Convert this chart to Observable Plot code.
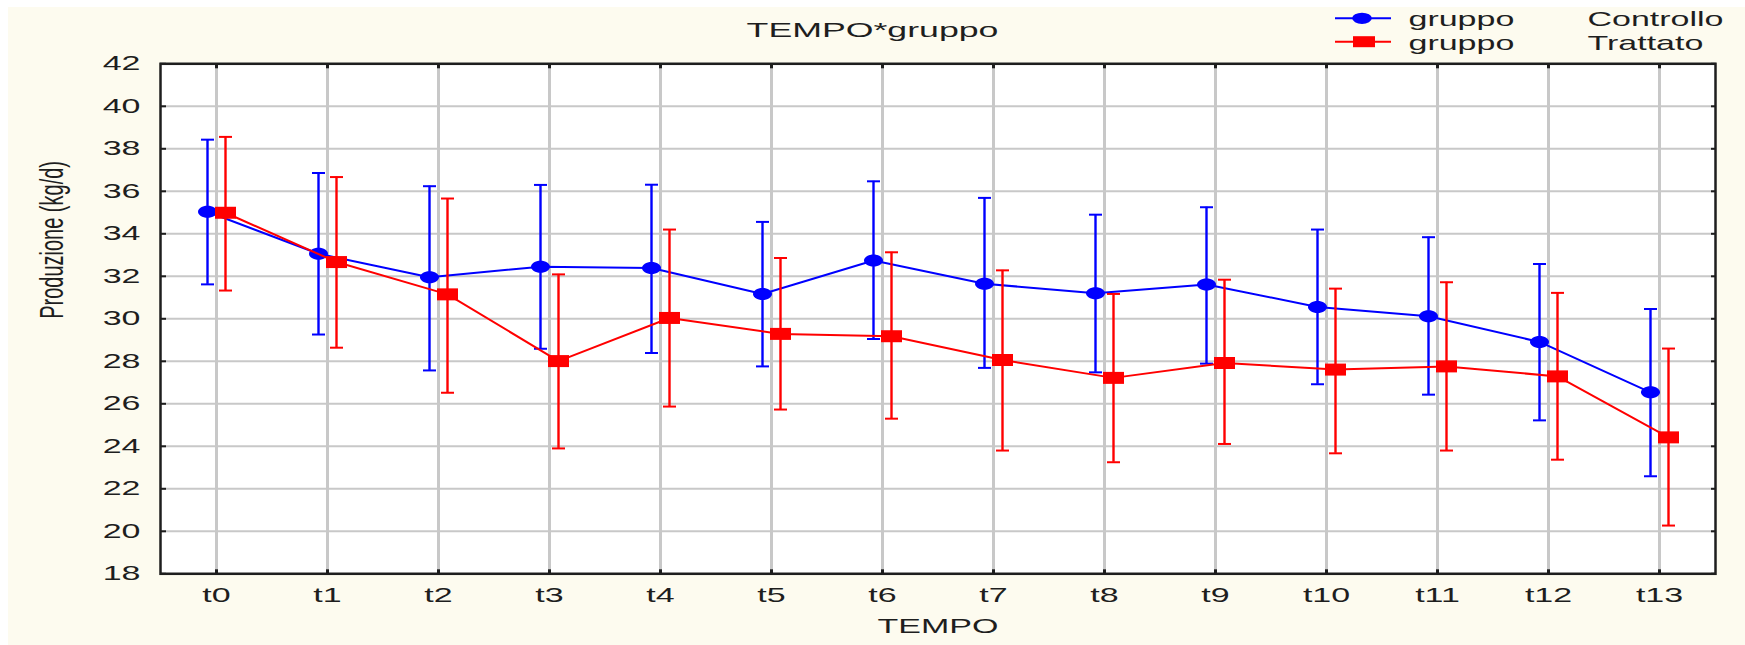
<!DOCTYPE html>
<html>
<head>
<meta charset="utf-8">
<script src="https://cdn.jsdelivr.net/npm/d3@7"></script>
<script src="https://cdn.jsdelivr.net/npm/@observablehq/plot@0.6"></script>
<style>
  html, body { margin: 0; padding: 0; background: #ffffff; }
  #wrap { position: relative; width: 1745px; height: 645px; overflow: hidden; }
  #cream { position: absolute; left: 8px; top: 7px; right: 0; bottom: 0; background: #fdfbef; }
  #chart { position: absolute; left: 0; top: 0; }
  #overlay { position: absolute; left: 0; top: 0; }
</style>
</head>
<body>
<div id="wrap">
  <div id="cream"></div>
  <div id="chart"></div>
  <svg id="overlay" width="1745" height="645"></svg>
</div>
<script>
// ---- data ----
const tempo = ["t0","t1","t2","t3","t4","t5","t6","t7","t8","t9","t10","t11","t12","t13"];
const controlloMean  = [35.04, 33.06, 31.96, 32.45, 32.39, 31.17, 32.74, 31.65, 31.20, 31.61, 30.56, 30.12, 28.91, 26.54];
const controlloUpper = [38.43, 36.86, 36.24, 36.30, 36.31, 34.56, 36.47, 35.69, 34.90, 35.25, 34.20, 33.84, 32.58, 30.46];
const controlloLower = [31.62, 29.26, 27.57, 28.59, 28.39, 27.76, 29.05, 27.69, 27.48, 27.89, 26.92, 26.43, 25.22, 22.59];
const trattatoMean   = [34.99, 32.67, 31.15, 28.01, 30.04, 29.29, 29.18, 28.06, 27.22, 27.92, 27.61, 27.76, 27.29, 24.42];
const trattatoUpper  = [38.56, 36.67, 35.66, 32.09, 34.20, 32.86, 33.13, 32.28, 31.17, 31.84, 31.42, 31.72, 31.22, 28.60];
const trattatoLower  = [31.33, 28.64, 26.52, 23.90, 25.87, 25.73, 25.30, 23.80, 23.25, 24.11, 23.67, 23.80, 23.37, 20.27];
const yTicks = [18, 20, 22, 24, 26, 28, 30, 32, 34, 36, 38, 40, 42];
const titleText = "TEMPO*gruppo";
const xLabel = "TEMPO";
const yLabel = "Produzione (kg/d)";
const legendGroup = "gruppo";
const seriesNames = ["Controllo", "Trattato"];

// ---- style ----
const STRETCH = 1.7;
const FONT = "'Liberation Sans', Arial, Helvetica, sans-serif";
const BLUE = "#0000ff", RED = "#ff0000", INK = "#1e1e1e";

const controllo = tempo.map((t, i) => ({t, mean: controlloMean[i], hi: controlloUpper[i], lo: controlloLower[i]}));
const trattato  = tempo.map((t, i) => ({t, mean: trattatoMean[i],  hi: trattatoUpper[i],  lo: trattatoLower[i]}));

function ellipseSymbol(rx, ry) {
  return {draw(ctx) {
    const k = 0.5523;
    ctx.moveTo(rx, 0);
    ctx.bezierCurveTo(rx, ry * k, rx * k, ry, 0, ry);
    ctx.bezierCurveTo(-rx * k, ry, -rx, ry * k, -rx, 0);
    ctx.bezierCurveTo(-rx, -ry * k, -rx * k, -ry, 0, -ry);
    ctx.bezierCurveTo(rx * k, -ry, rx, -ry * k, rx, 0);
    ctx.closePath();
  }};
}
function rectSymbol(w, h) { return {draw(ctx) { ctx.rect(-w / 2, -h / 2, w, h); }}; }
function capSymbol(w) { return {draw(ctx) { ctx.moveTo(-w / 2, 0); ctx.lineTo(w / 2, 0); }}; }

function series(data, color, dx, marker) {
  return [
    Plot.ruleX(data, {x: "t", y1: "lo", y2: "hi", stroke: color, strokeWidth: 2.4, dx}),
    Plot.dot(data, {x: "t", y: "hi", symbol: capSymbol(13), stroke: color, fill: "none", strokeWidth: 2, dx}),
    Plot.dot(data, {x: "t", y: "lo", symbol: capSymbol(13), stroke: color, fill: "none", strokeWidth: 2, dx}),
    Plot.line(data, {x: "t", y: "mean", stroke: color, strokeWidth: 2, dx}),
    Plot.dot(data, {x: "t", y: "mean", symbol: marker, fill: color, stroke: "none", dx})
  ];
}

const chart = Plot.plot({
  width: 1745,
  height: 645,
  marginLeft: 160,
  marginRight: 30,
  marginTop: 63.3,
  marginBottom: 71.7,
  style: {background: "transparent", fontFamily: FONT, fontSize: "20px", color: INK},
  x: {type: "point", domain: tempo, padding: 0.5},
  y: {domain: [18, 42]},
  marks: [
    Plot.frame({fill: "white", stroke: null}),
    Plot.gridY(yTicks, {stroke: "#c8c8c8", strokeOpacity: 1, strokeWidth: 2}),
    Plot.gridX(tempo, {stroke: "#c8c8c8", strokeOpacity: 1, strokeWidth: 3}),
    Plot.axisY(yTicks, {anchor: "left", tickSize: 0, tickPadding: 20, fontSize: 20, label: null}),
    Plot.axisX(tempo, {anchor: "bottom", tickSize: 0, tickPadding: 14, fontSize: 20, label: null}),
    Plot.axisY(yTicks, {anchor: "left", tickSize: -6, tickFormat: () => "", label: null, stroke: INK, strokeWidth: 2}),
    Plot.axisY(yTicks, {anchor: "right", tickSize: -5, tickFormat: () => "", label: null, stroke: INK, strokeWidth: 2}),
    Plot.axisX(tempo, {anchor: "top", tickSize: -4, tickFormat: () => "", label: null, stroke: INK, strokeWidth: 3}),
    Plot.axisX(tempo, {anchor: "bottom", tickSize: -4, tickFormat: () => "", label: null, stroke: INK, strokeWidth: 3}),
    ...series(controllo, BLUE, -9, ellipseSymbol(9.5, 6)),
    ...series(trattato, RED, 9, rectSymbol(21, 12)),
    Plot.frame({stroke: INK, strokeWidth: 2.5}),
    Plot.text([xLabel], {text: d => d, frameAnchor: "bottom", dy: 53, fontSize: 20, lineAnchor: "middle", fill: INK}),
    Plot.text([yLabel], {text: d => d, frameAnchor: "left", dx: -108, rotate: -90, fontSize: 20, lineAnchor: "middle", fill: INK})
  ]
});

// Reference text is stretched horizontally: widen each glyph run about its anchor.
chart.querySelectorAll("text").forEach(el => {
  const t = el.getAttribute("transform");
  if (t) {
    el.setAttribute("transform", t + (t.includes("rotate") ? ` scale(1,${STRETCH})` : ` scale(${STRETCH},1)`));
  } else {
    const x = +(el.getAttribute("x") || 0), y = +(el.getAttribute("y") || 0);
    el.setAttribute("transform", `translate(${x},${y}) scale(${STRETCH},1) translate(${-x},${-y})`);
  }
});
document.getElementById("chart").appendChild(chart);

// ---- title and legend ----
const ov = d3.select("#overlay");
ov.append("text")
  .attr("transform", `translate(872.5,37.3) scale(${STRETCH},1)`)
  .attr("text-anchor", "middle")
  .attr("font-family", FONT).attr("font-size", 21).attr("fill", INK)
  .text(titleText);

const rows = [
  {name: seriesNames[0], color: BLUE, y: 18.3, kind: "ellipse"},
  {name: seriesNames[1], color: RED, y: 41.7, kind: "rect"}
];
rows.forEach(r => {
  ov.append("line").attr("x1", 1335).attr("x2", 1391).attr("y1", r.y).attr("y2", r.y)
    .attr("stroke", r.color).attr("stroke-width", 2);
  if (r.kind === "ellipse") {
    ov.append("ellipse").attr("cx", 1362).attr("cy", r.y).attr("rx", 9.8).attr("ry", 5.6).attr("fill", r.color);
  } else {
    ov.append("rect").attr("x", 1353).attr("y", r.y - 5.5).attr("width", 22).attr("height", 11).attr("fill", r.color);
  }
  ov.append("text")
    .attr("transform", `translate(1408.5,${r.y + 7.9}) scale(${STRETCH},1)`)
    .attr("font-family", FONT).attr("font-size", 20).attr("fill", INK)
    .text(legendGroup);
  ov.append("text")
    .attr("transform", `translate(1587.5,${r.y + 7.9}) scale(${STRETCH},1)`)
    .attr("font-family", FONT).attr("font-size", 20).attr("fill", INK)
    .text(r.name);
});
</script>
</body>
</html>
